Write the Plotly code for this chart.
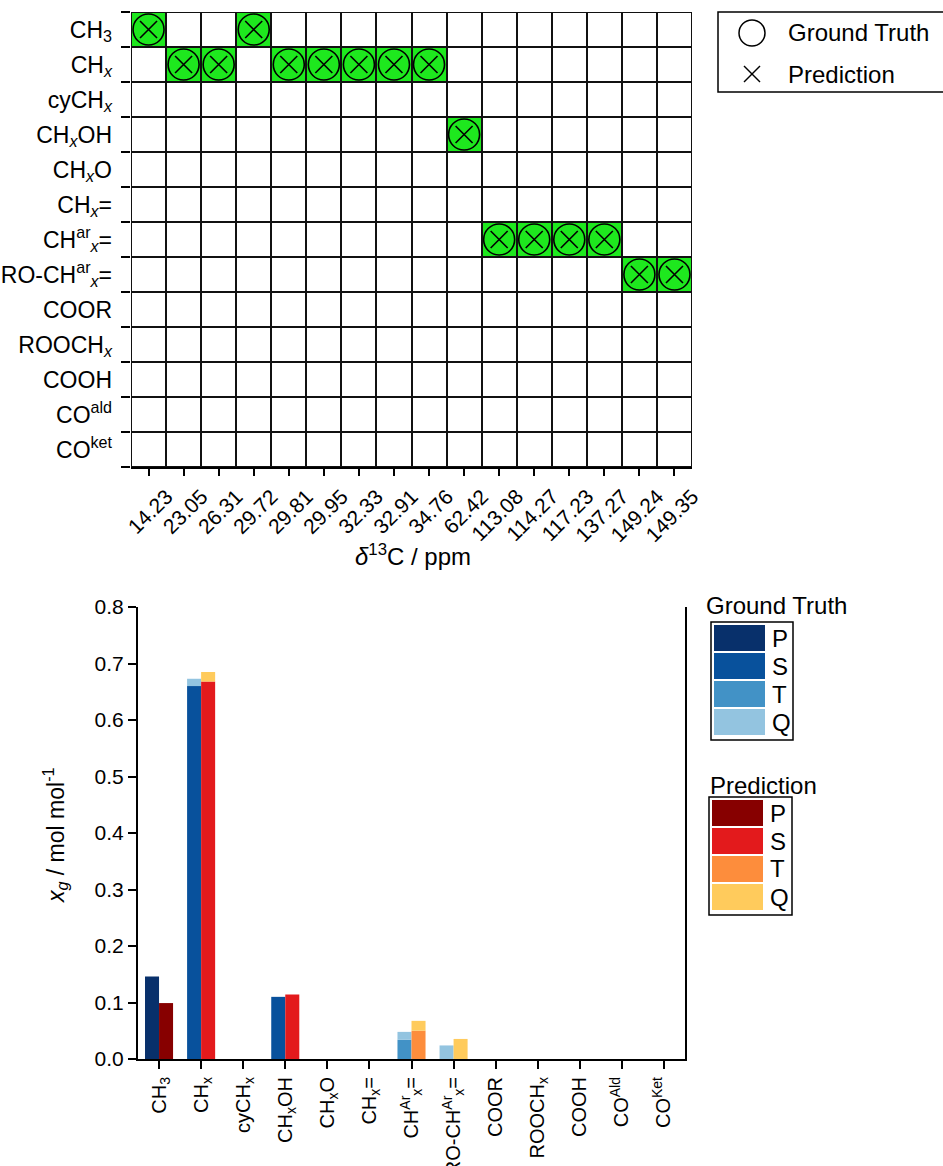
import numpy as np
import plotly.graph_objects as go

W, H = 943, 1166
FONT = "Arial, Liberation Sans, Helvetica, sans-serif"
GREEN = "#1ee81e"

# ---- assignment matrix data -------------------------------------------------
shifts = ["14.23", "23.05", "26.31", "29.72", "29.81", "29.95", "32.33", "32.91",
          "34.76", "62.42", "113.08", "114.27", "117.23", "137.27", "149.24", "149.35"]

group_labels = ["CH<sub>3</sub>", "CH<sub><i>x</i></sub>", "cyCH<sub><i>x</i></sub>",
                "CH<sub><i>x</i></sub>OH", "CH<sub><i>x</i></sub>O", "CH<sub><i>x</i></sub>=",
                "CH<sup>ar</sup><sub><i>x</i></sub>=", "RO-CH<sup>ar</sup><sub><i>x</i></sub>=",
                "COOR", "ROOCH<sub><i>x</i></sub>", "COOH", "CO<sup>ald</sup>", "CO<sup>ket</sup>"]

# group index assigned to each shift
truth_group = [0, 1, 1, 0, 1, 1, 1, 1, 1, 3, 6, 6, 6, 6, 7, 7]
pred_group = [0, 1, 1, 0, 1, 1, 1, 1, 1, 3, 6, 6, 6, 6, 7, 7]

# ---- group fraction data ----------------------------------------------------
bar_labels = ["CH<sub>3</sub>", "CH<sub>x</sub>", "cyCH<sub>x</sub>", "CH<sub>x</sub>OH",
              "CH<sub>x</sub>O", "CH<sub>x</sub>=", "CH<sup>Ar</sup><sub>x</sub>=",
              "RO-CH<sup>Ar</sup><sub>x</sub>=", "COOR", "ROOCH<sub>x</sub>", "COOH",
              "CO<sup>Ald</sup>", "CO<sup>Ket</sup>"]

truth_P = [0.146, 0, 0, 0, 0, 0, 0, 0, 0, 0, 0, 0, 0]
truth_S = [0, 0.660, 0, 0.110, 0, 0, 0, 0, 0, 0, 0, 0, 0]
truth_T = [0, 0, 0, 0, 0, 0, 0.034, 0, 0, 0, 0, 0, 0]
truth_Q = [0, 0.013, 0, 0, 0, 0, 0.014, 0.024, 0, 0, 0, 0, 0]

pred_P = [0.099, 0, 0, 0, 0, 0, 0, 0, 0, 0, 0, 0, 0]
pred_S = [0, 0.668, 0, 0.114, 0, 0, 0, 0, 0, 0, 0, 0, 0]
pred_T = [0, 0, 0, 0, 0, 0, 0.050, 0, 0, 0, 0, 0, 0]
pred_Q = [0, 0.017, 0, 0, 0, 0, 0.0175, 0.0355, 0, 0, 0, 0, 0]

degrees = ["P", "S", "T", "Q"]
truth_colors = ["#08306b", "#08519c", "#4292c6", "#93c4e0"]
pred_colors = ["#870000", "#e31a1c", "#fd8d3c", "#ffcb5c"]


def px(x):
    return x / W


def py(y):
    return 1 - y / H


n_rows = len(group_labels)
n_cols = len(shifts)

# green where the predicted group equals the true group
z = np.zeros((n_rows, n_cols))
for c, (g, p) in enumerate(zip(truth_group, pred_group)):
    if g == p:
        z[g, c] = 1

fig = go.Figure()

fig.add_trace(go.Heatmap(
    z=z, x=list(range(n_cols)), y=list(range(n_rows)),
    colorscale=[[0, "white"], [1, GREEN]], zmin=0, zmax=1,
    showscale=False, xgap=2, ygap=2, hoverinfo="skip",
    xaxis="x", yaxis="y"))

fig.add_trace(go.Scatter(
    x=list(range(n_cols)), y=truth_group, mode="markers",
    marker=dict(symbol="circle-open", size=31, color="black", line=dict(width=1.6)),
    showlegend=False, xaxis="x", yaxis="y"))
fig.add_trace(go.Scatter(
    x=list(range(n_cols)), y=pred_group, mode="markers",
    marker=dict(symbol="x-thin-open", size=17, color="black", line=dict(width=1.6)),
    showlegend=False, xaxis="x", yaxis="y"))

# stacked bars: truth left of each tick, prediction right of it
xb = np.arange(len(bar_labels))
for series, colors, offset in ((
        [truth_P, truth_S, truth_T, truth_Q], truth_colors, -1 / 3),
        ([pred_P, pred_S, pred_T, pred_Q], pred_colors, 0.0)):
    base = np.zeros(len(bar_labels))
    for vals, col in zip(series, colors):
        v = np.array(vals, dtype=float)
        fig.add_trace(go.Bar(
            x=xb, y=v, base=base.copy(), width=1 / 3, offset=offset,
            marker=dict(color=col, line=dict(width=0)),
            showlegend=False, xaxis="x2", yaxis="y2"))
        base = base + v

# ---- axes -------------------------------------------------------------------
fig.update_layout(
    width=W, height=H, margin=dict(l=0, r=0, t=0, b=0, pad=0), autosize=False,
    paper_bgcolor="white", plot_bgcolor="white", barmode="overlay",
    font=dict(family=FONT, color="black"),
    xaxis=dict(domain=[px(131), px(692)], range=[-0.5, n_cols - 0.5], automargin=False,
               tickvals=list(range(n_cols)), ticktext=shifts, tickangle=-45,
               ticklabelshift=18,
               ticks="outside", ticklen=7, tickwidth=1.5, tickcolor="black",
               tickfont=dict(family=FONT, size=21, color="black"),
               showgrid=False, zeroline=False,
               showline=True, linecolor="black", linewidth=2, anchor="y"),
    yaxis=dict(domain=[py(467), py(12)], range=[n_rows - 0.5, -0.5], automargin=False,
               tickvals=list(range(n_rows)), ticktext=group_labels, ticks="",
               ticklabelstandoff=18,
               minor=dict(tickmode="array", tickvals=[i - 0.5 for i in range(n_rows + 1)],
                          ticks="outside", ticklen=9, tickwidth=2, tickcolor="black"),
               tickfont=dict(family=FONT, size=23, color="black"),
               showgrid=False, zeroline=False, showline=False, anchor="x"),
    xaxis2=dict(domain=[px(138), px(685)], range=[-0.5, len(bar_labels) - 0.5],
                automargin=False,
                tickvals=list(xb), ticktext=bar_labels, tickangle=-90,
                ticks="outside", ticklen=8, tickwidth=2, tickcolor="black",
                tickfont=dict(family=FONT, size=20, color="black"),
                showgrid=False, zeroline=False,
                showline=True, linecolor="black", linewidth=2, anchor="y2"),
    yaxis2=dict(domain=[py(1059), py(607)], range=[0, 0.8], dtick=0.1, tickformat=".1f",
                automargin=False,
                ticks="outside", ticklen=8, tickwidth=2, tickcolor="black",
                tickfont=dict(family=FONT, size=21, color="black"),
                showgrid=False, zeroline=False, showline=True, mirror=True,
                linecolor="black", linewidth=2, anchor="x2"),
)

shapes = []
annotations = []


def label(text, x, y, size=24, xanchor="left", angle=0):
    annotations.append(dict(xref="paper", yref="paper", x=px(x), y=py(y),
                            xanchor=xanchor, yanchor="middle", text=text,
                            textangle=angle, showarrow=False,
                            font=dict(family=FONT, size=size, color="black")))


# cell grid: black under the gapped heatmap, plus an outer frame
shapes.append(dict(type="rect", xref="x", yref="y", x0=-0.5, x1=n_cols - 0.5,
                   y0=-0.5, y1=n_rows - 0.5, fillcolor="#111111",
                   line=dict(width=0), layer="below"))
shapes.append(dict(type="rect", xref="x", yref="y", x0=-0.5, x1=n_cols - 0.5,
                   y0=-0.5, y1=n_rows - 0.5, line=dict(color="#111111", width=2),
                   layer="above"))

label("<i>δ</i><sup>13</sup>C / ppm", 413, 555, size=24, xanchor="center")
label("<i>x<sub>g</sub></i> / mol mol<sup>-1</sup>", 55, 835, size=23,
      xanchor="center", angle=-90)

# marker key for the matrix
shapes.append(dict(type="rect", xref="paper", yref="paper", x0=px(718), x1=px(960),
                   y0=py(92), y1=py(12), line=dict(color="black", width=1.5),
                   fillcolor="white"))
cx, cy, r = 752, 33, 13
shapes.append(dict(type="circle", xref="paper", yref="paper", x0=px(cx - r), x1=px(cx + r),
                   y0=py(cy + r), y1=py(cy - r), line=dict(color="black", width=1.5)))
cx, cy, r = 752, 74, 8
shapes.append(dict(type="line", xref="paper", yref="paper", x0=px(cx - r), x1=px(cx + r),
                   y0=py(cy - r), y1=py(cy + r), line=dict(color="black", width=1.5)))
shapes.append(dict(type="line", xref="paper", yref="paper", x0=px(cx - r), x1=px(cx + r),
                   y0=py(cy + r), y1=py(cy - r), line=dict(color="black", width=1.5)))
label("Ground Truth", 786, 33)
label("Prediction", 786, 74)

# colour keys for the bars
for title, tx, ty, box, colors in (
        ("Ground Truth", 704, 605, (711, 793, 622, 740), truth_colors),
        ("Prediction", 708, 785, (709, 792, 797, 915), pred_colors)):
    label(title, tx, ty)
    x0, x1, y0, y1 = box
    shapes.append(dict(type="rect", xref="paper", yref="paper", x0=px(x0), x1=px(x1),
                       y0=py(y1), y1=py(y0), line=dict(color="black", width=1.5)))
    step = (y1 - y0 - 6) / 4
    for i, (lab, col) in enumerate(zip(degrees, colors)):
        top = y0 + 3 + i * step
        shapes.append(dict(type="rect", xref="paper", yref="paper", x0=px(x0 + 3),
                           x1=px(x0 + 54), y0=py(top + step - 2), y1=py(top),
                           fillcolor=col, line=dict(width=0)))
        label(lab, x0 + 59, top + step / 2 - 1)

fig.update_layout(shapes=shapes, annotations=annotations)
fig.write_html("out.html")
